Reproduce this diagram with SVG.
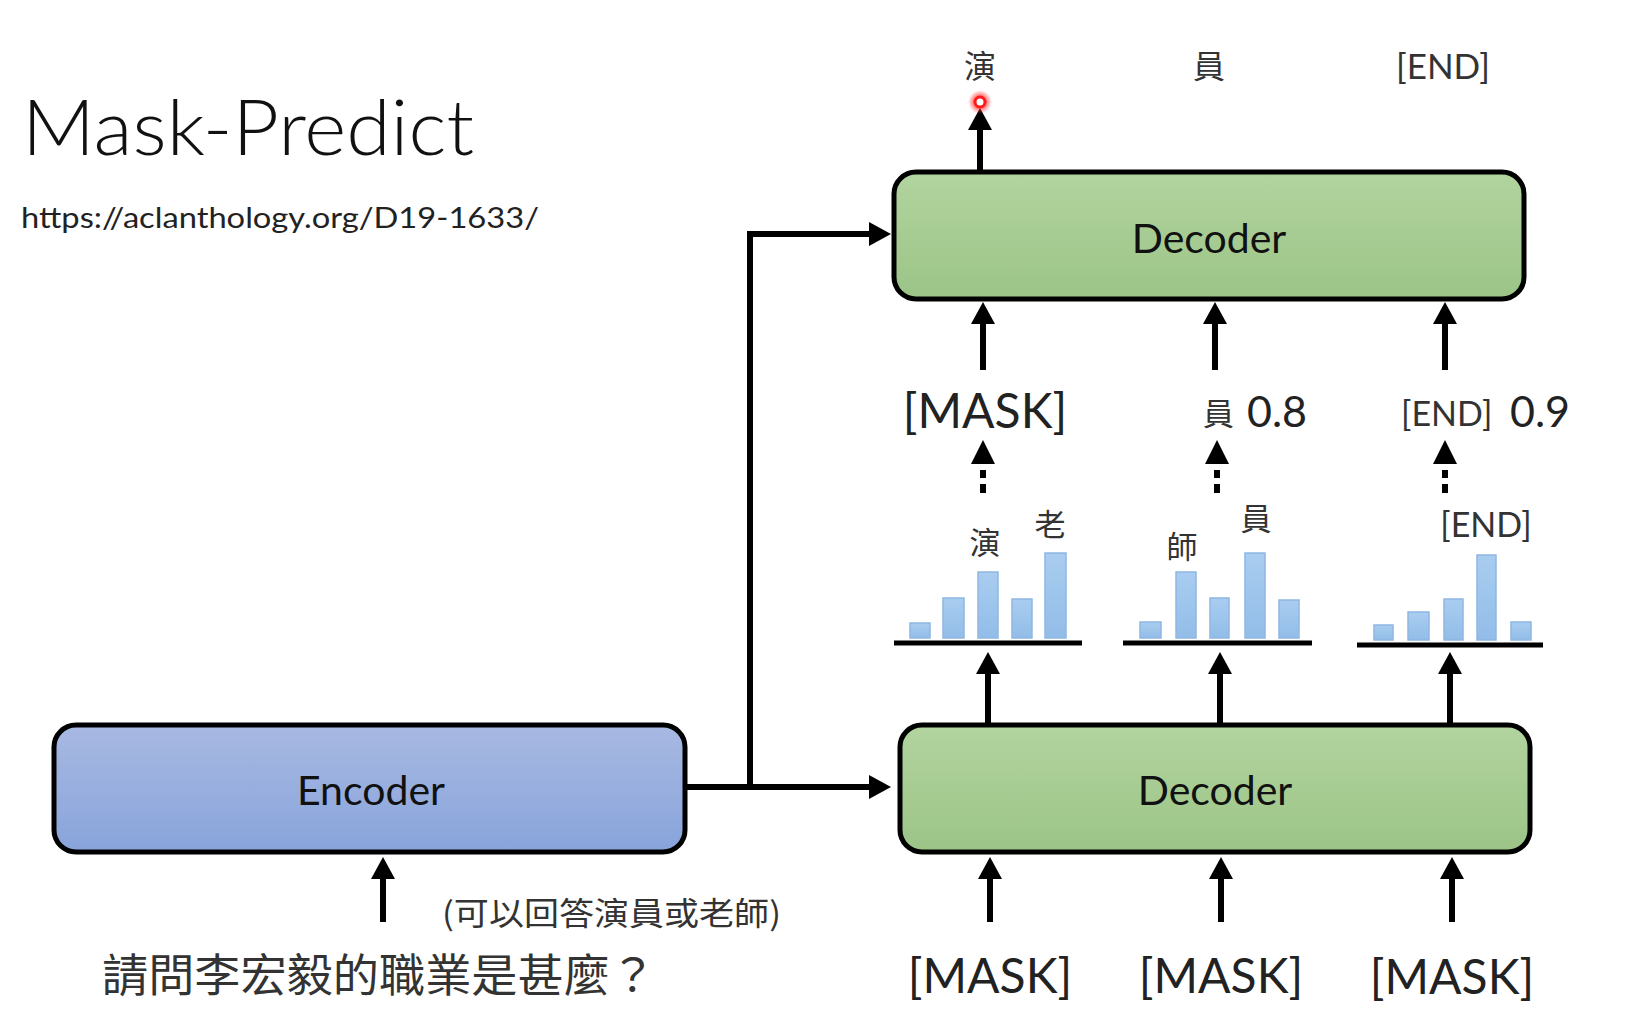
<svg xmlns="http://www.w3.org/2000/svg" width="1634" height="1025" viewBox="0 0 1634 1025">
  <style>
    .lat { font-family: Lato, "Liberation Sans", "Noto Sans CJK TC", sans-serif; }
    .cjk { font-family: "Noto Sans CJK TC", "Noto Sans CJK SC", sans-serif; }
    .box { stroke: #000; stroke-width: 5; }
    .lbl { fill: #111; font-size: 41px; text-anchor: middle; }
    .gray { fill: #333; }
    .bar { fill: url(#barG); stroke: #8fb6e2; stroke-width: 1.5; }
    .base { stroke: #000; stroke-width: 5; }
    .conn { stroke: #000; stroke-width: 6; fill: none; marker-end: url(#ah); }
    .plain { stroke: #000; stroke-width: 6; fill: none; }
  </style>
  <defs>
    <linearGradient id="greenG" x1="0" y1="0" x2="0" y2="1">
      <stop offset="0" stop-color="#b2d49f"/>
      <stop offset="1" stop-color="#9cc487"/>
    </linearGradient>
    <linearGradient id="blueG" x1="0" y1="0" x2="0" y2="1">
      <stop offset="0" stop-color="#a8b9e2"/>
      <stop offset="1" stop-color="#88a4db"/>
    </linearGradient>
    <linearGradient id="barG" x1="0" y1="0" x2="0" y2="1">
      <stop offset="0" stop-color="#a9cdf0"/>
      <stop offset="1" stop-color="#92bde8"/>
    </linearGradient>
    <radialGradient id="glow">
      <stop offset="0.4" stop-color="#ff2020" stop-opacity="0.8"/>
      <stop offset="1" stop-color="#ff4040" stop-opacity="0"/>
    </radialGradient>
    <marker id="ah" viewBox="0 0 22 24" refX="2" refY="12" markerWidth="22" markerHeight="24" markerUnits="userSpaceOnUse" orient="auto">
      <path d="M0,0 L22,12 L0,24 z" fill="#000"/>
    </marker>
  </defs>

  <rect width="1634" height="1025" fill="#fff"/>

  <!-- Title -->
  <g id="title">
    <text class="lat" x="22" y="155" font-size="76" font-weight="300" fill="#111" textLength="452" lengthAdjust="spacingAndGlyphs">Mask-Predict</text>
    <text class="lat" x="21" y="228" font-size="29" fill="#222" textLength="518" lengthAdjust="spacingAndGlyphs">https://aclanthology.org/D19-1633/</text>
  </g>

  <!-- Connectors -->
  <g id="connectors">
    <!-- encoder to decoders -->
    <path class="plain" d="M685,787 H750"/>
    <path class="conn" d="M748,787 H871"/>
    <path class="conn" d="M750,790 V234 H871"/>
    <!-- upper decoder output -->
    <path class="conn" d="M980,172 V128"/>
    <!-- into upper decoder -->
    <path class="conn" d="M983,370 V322"/>
    <path class="conn" d="M1215,370 V322"/>
    <path class="conn" d="M1445,370 V322"/>
    <!-- dotted arrows -->
    <g fill="#000">
      <polygon points="983,440 971,464 995,464"/>
      <rect x="980" y="470" width="6" height="8"/>
      <rect x="980" y="484" width="6" height="9"/>
      <polygon points="1217,440 1205,464 1229,464"/>
      <rect x="1214" y="470" width="6" height="8"/>
      <rect x="1214" y="484" width="6" height="9"/>
      <polygon points="1445,440 1433,464 1457,464"/>
      <rect x="1442" y="470" width="6" height="8"/>
      <rect x="1442" y="484" width="6" height="9"/>
    </g>
    <!-- lower decoder to histograms -->
    <path class="conn" d="M988,724 V672"/>
    <path class="conn" d="M1220,724 V672"/>
    <path class="conn" d="M1450,724 V672"/>
    <!-- inputs to lower decoder -->
    <path class="conn" d="M990,922 V877"/>
    <path class="conn" d="M1221,922 V877"/>
    <path class="conn" d="M1452,922 V877"/>
    <!-- input to encoder -->
    <path class="conn" d="M383,922 V877"/>
  </g>

  <!-- Encoder -->
  <g id="encoder">
    <rect class="box" x="54" y="725" width="631" height="127" rx="22" fill="url(#blueG)"/>
    <text class="lat lbl" x="371" y="805">Encoder</text>
  </g>

  <!-- Lower decoder -->
  <g id="decoder-lower">
    <rect class="box" x="900" y="725" width="630" height="127" rx="22" fill="url(#greenG)"/>
    <text class="lat lbl" x="1215" y="805">Decoder</text>
  </g>

  <!-- Upper decoder -->
  <g id="decoder-upper">
    <rect class="box" x="894" y="172" width="630" height="127" rx="22" fill="url(#greenG)"/>
    <text class="lat lbl" x="1209" y="253">Decoder</text>
  </g>

  <!-- Output tokens -->
  <g id="outputs">
    <text class="cjk gray" x="980" y="78" font-size="32" text-anchor="middle">演</text>
    <text class="cjk gray" x="1209" y="78" font-size="32" text-anchor="middle">員</text>
    <text class="lat gray" x="1443" y="79" font-size="35" text-anchor="middle">[END]</text>
    <circle cx="980" cy="102" r="12" fill="url(#glow)"/>
    <circle cx="980" cy="102" r="5" fill="#fff" stroke="#ff1a1a" stroke-width="3"/>
  </g>

  <!-- Middle tokens -->
  <g id="middle-tokens">
    <text class="lat" x="985" y="428" font-size="48" fill="#222" text-anchor="middle">[MASK]</text>
    <text class="cjk gray" x="1203" y="425" font-size="31">員</text>
    <text class="lat" x="1247" y="427" font-size="43" fill="#222">0.8</text>
    <text class="lat gray" x="1401" y="426" font-size="34">[END]</text>
    <text class="lat" x="1510" y="427" font-size="43" fill="#222">0.9</text>
  </g>

  <!-- Histogram 1 -->
  <g id="hist-1">
    <rect class="bar" x="910" y="623" width="20" height="15"/>
    <rect class="bar" x="943" y="598" width="21" height="40"/>
    <rect class="bar" x="978" y="572" width="20" height="66"/>
    <rect class="bar" x="1012" y="599" width="20" height="39"/>
    <rect class="bar" x="1045" y="553" width="21" height="85"/>
    <line class="base" x1="894" y1="643" x2="1082" y2="643"/>
    <text class="cjk gray" x="985" y="554" font-size="31" text-anchor="middle">演</text>
    <text class="cjk gray" x="1050" y="536" font-size="31" text-anchor="middle">老</text>
  </g>

  <!-- Histogram 2 -->
  <g id="hist-2">
    <rect class="bar" x="1140" y="622" width="21" height="16"/>
    <rect class="bar" x="1176" y="572" width="20" height="66"/>
    <rect class="bar" x="1210" y="598" width="19" height="40"/>
    <rect class="bar" x="1245" y="553" width="20" height="85"/>
    <rect class="bar" x="1279" y="600" width="20" height="38"/>
    <line class="base" x1="1123" y1="643" x2="1312" y2="643"/>
    <text class="cjk gray" x="1182" y="558" font-size="31" text-anchor="middle">師</text>
    <text class="cjk gray" x="1256" y="530" font-size="31" text-anchor="middle">員</text>
  </g>

  <!-- Histogram 3 -->
  <g id="hist-3">
    <rect class="bar" x="1374" y="625" width="19" height="15"/>
    <rect class="bar" x="1408" y="612" width="21" height="28"/>
    <rect class="bar" x="1444" y="599" width="19" height="41"/>
    <rect class="bar" x="1477" y="555" width="19" height="85"/>
    <rect class="bar" x="1511" y="622" width="20" height="18"/>
    <line class="base" x1="1357" y1="645" x2="1543" y2="645"/>
    <text class="lat gray" x="1486" y="537" font-size="34" text-anchor="middle">[END]</text>
  </g>

  <!-- Inputs -->
  <g id="inputs">
    <text class="lat" x="990" y="993" font-size="48" fill="#222" text-anchor="middle">[MASK]</text>
    <text class="lat" x="1221" y="993" font-size="48" fill="#222" text-anchor="middle">[MASK]</text>
    <text class="lat" x="1452" y="994" font-size="48" fill="#222" text-anchor="middle">[MASK]</text>
  </g>

  <!-- Question -->
  <g id="question">
    <text class="cjk gray" x="442" y="925" font-size="32" textLength="339" lengthAdjust="spacingAndGlyphs">(可以回答演員或老師)</text>
    <text class="cjk gray" x="102" y="992" font-size="45" textLength="554" lengthAdjust="spacingAndGlyphs">請問李宏毅的職業是甚麼？</text>
  </g>
</svg>
